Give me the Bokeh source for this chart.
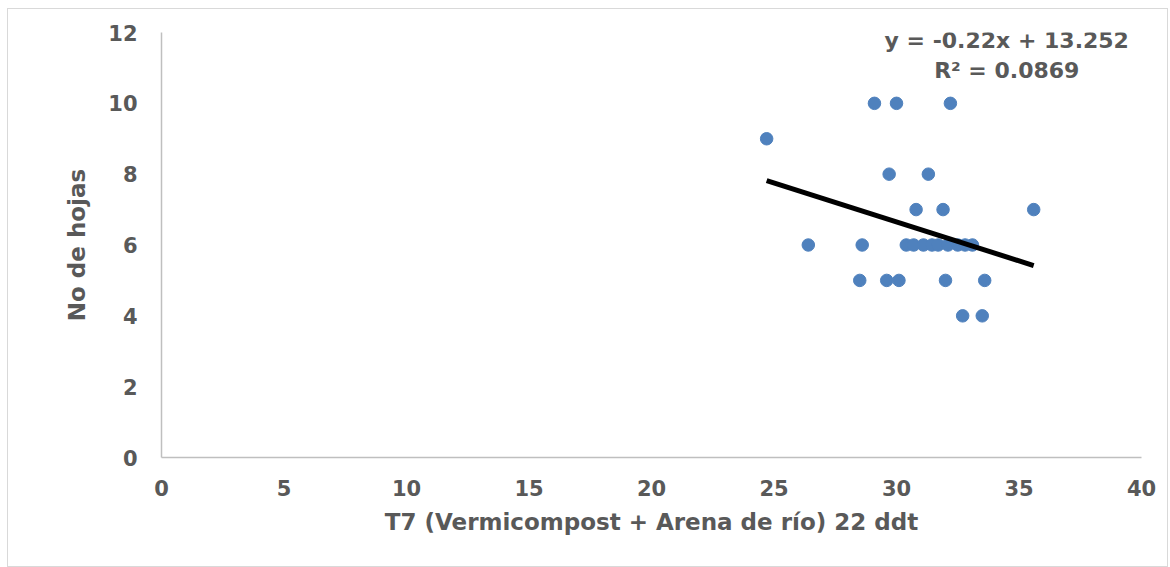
from bokeh.plotting import figure
from bokeh.models import Range1d, FixedTicker, Label
from bokeh.embed import file_html
from bokeh.resources import INLINE

# Data
x_vals = [29.1, 30.0, 32.2,
          24.7,
          29.7, 31.3,
          30.8, 31.9, 35.6,
          26.4, 28.6, 30.4, 30.7, 31.1, 31.45, 31.7, 32.1, 32.5, 32.8, 33.1,
          28.5, 29.6, 30.1, 32.0, 33.6,
          32.7, 33.5]
y_vals = [10, 10, 10,
          9,
          8, 8,
          7, 7, 7,
          6, 6, 6, 6, 6, 6, 6, 6, 6, 6, 6,
          5, 5, 5, 5, 5,
          4, 4]
slope = -0.22
intercept = 13.252
eq_text = "y = -0.22x + 13.252"
r2_text = "R² = 0.0869"
x_ticks = [0, 5, 10, 15, 20, 25, 30, 35, 40]
y_ticks = [0, 2, 4, 6, 8, 10, 12]
x_title = "T7 (Vermicompost + Arena de río) 22 ddt"
y_title = "No de hojas"

FONT = "DejaVu Sans"
GRAY = "#595959"

p = figure(width=1161, height=559, output_backend="svg", toolbar_location=None,
           x_range=Range1d(0, 40), y_range=Range1d(0, 12),
           min_border_left=153, min_border_right=28, min_border_top=23, min_border_bottom=111)
p.styles = {"border": "1px solid #d9d9d9", "box-sizing": "border-box",
            "margin-left": "7px", "margin-top": "8px"}
p.outline_line_color = None
p.grid.grid_line_color = None
p.background_fill_color = "white"

for ax in (p.xaxis, p.yaxis):
    ax.axis_line_color = "#bfbfbf"
    ax.axis_line_width = 1.5
    ax.major_tick_line_color = None
    ax.minor_tick_line_color = None
    ax.major_label_text_font = FONT
    ax.major_label_text_font_style = "bold"
    ax.major_label_text_font_size = "21px"
    ax.major_label_text_color = GRAY
    ax.axis_label_text_font = FONT
    ax.axis_label_text_font_style = "bold"
    ax.axis_label_text_font_size = "23px"
    ax.axis_label_text_color = GRAY

p.xaxis.ticker = FixedTicker(ticks=x_ticks)
p.yaxis.ticker = FixedTicker(ticks=y_ticks)
p.xaxis.axis_label = x_title
p.yaxis.axis_label = y_title
p.xaxis.major_label_standoff = 16
p.xaxis.axis_label_standoff = 10
p.yaxis.major_label_standoff = 18
p.yaxis.axis_label_standoff = 15

p.scatter(x_vals, y_vals, size=12.5, color="#4f81bd", line_color="#4f81bd")

x0, x1 = min(x_vals), max(x_vals)
p.line([x0, x1], [slope * x0 + intercept, slope * x1 + intercept],
       line_color="black", line_width=5)

p.add_layout(Label(x=34.5, y=11.77, text=eq_text,
                   text_font=FONT, text_font_style="bold", text_font_size="22px",
                   text_color=GRAY, text_align="center", text_baseline="middle"))
p.add_layout(Label(x=34.5, y=10.93, text=r2_text,
                   text_font=FONT, text_font_style="bold", text_font_size="22px",
                   text_color=GRAY, text_align="center", text_baseline="middle"))

open("out.html", "w").write(file_html(p, INLINE))
